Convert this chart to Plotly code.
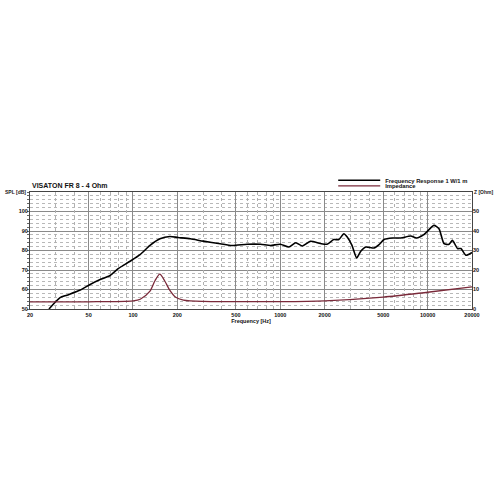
import math
import plotly.graph_objects as go

# SPL frequency response (Hz, dB)
spl_freq = [26.9, 32, 35.6, 43.9, 51.2, 59.9, 70, 79.8, 95.6, 111.7, 130.5, 152.5, 178, 202,
            245, 300, 391, 470, 595, 735, 857, 1000, 1143, 1274, 1414, 1599, 1868, 2075,
            2305, 2495, 2700, 2845, 3065, 3300, 3515, 3800, 4330, 4680, 5060, 5770, 6570,
            7680, 8420, 9420, 11030, 11940, 12920, 13980, 14730, 15960, 16820, 18200, 20000]
spl_db = [50, 55.8, 57.1, 59.7, 62.6, 65.1, 67.2, 70.8, 74.5, 77.9, 82.6, 86, 87.2, 86.7,
          86, 84.8, 83.5, 82.6, 83.2, 83.2, 82.6, 83.2, 81.8, 84, 82.3, 84.7, 83.6, 83.2,
          85.6, 85.6, 88.6, 86.9, 82.6, 76.2, 79.6, 81.8, 81.3, 83, 85.6, 86.4, 86.4,
          87.4, 86.4, 88.1, 92.9, 91.2, 83.5, 83.2, 85.2, 81, 81, 77.6, 79]

# Impedance (Hz, Ohm)
imp_freq = [20, 50, 100, 112, 130, 141, 152, 164, 178, 195, 220, 300, 500, 1000, 2000,
            5000, 10000, 20000]
imp_ohm = [3.7, 3.7, 4.2, 5.0, 9.0, 14.5, 17.9, 14.5, 9.5, 6.0, 4.6, 3.9, 3.8, 3.8, 4.2,
           6.1, 8.6, 11.3]

major_x = [20, 50, 100, 200, 500, 1000, 2000, 5000, 10000, 20000]
major_x_labels = ["20", "50", "100", "200", "500", "1000", "2000", "5000", "10000", "20000"]
minor_x = [30, 40, 60, 70, 80, 90, 300, 400, 600, 700, 800, 900, 3000, 4000, 6000, 7000,
           8000, 9000]
spl_ticks = [50, 60, 70, 80, 90, 100]
z_ticks = [0, 10, 20, 30, 40, 50]

FONT = "Liberation Sans"
tick_font = dict(family=FONT, size=5.5, color="#111111", weight="bold")
leg_font = dict(family=FONT, size=5.8, color="#111111", weight="bold")

W, H = 496, 496
L, R, T = 30, 24, 191.5
PLOT_H = 117.5
B = H - T - PLOT_H

fig = go.Figure()
fig.add_trace(go.Scatter(x=spl_freq, y=spl_db, mode="lines", name="Frequency Response 1 W/1 m",
                         line=dict(color="black", width=1.6, shape="spline", smoothing=0.6),
                         xaxis="x", yaxis="y", legend="legend"))
fig.add_trace(go.Scatter(x=imp_freq, y=imp_ohm, mode="lines", name="Impedance",
                         line=dict(color="#7a2a3a", width=1.3, shape="spline", smoothing=0.8),
                         xaxis="x", yaxis="y2", legend="legend2"))
# empty trace on xaxis2 so the minor grid axis is drawn
fig.add_trace(go.Scatter(x=[20, 20000], y=[None, None], xaxis="x2", yaxis="y",
                         showlegend=False, hoverinfo="skip"))

fig.update_layout(
    width=W, height=H,
    margin=dict(l=L, r=R, t=T, b=B, pad=0, autoexpand=False),
    paper_bgcolor="white", plot_bgcolor="white",
    showlegend=True,
    legend=dict(x=0.686, y=1.10, xanchor="left", yanchor="middle", bgcolor="rgba(0,0,0,0)",
                font=leg_font, itemwidth=42),
    legend2=dict(x=0.686, y=1.052, xanchor="left", yanchor="middle", bgcolor="rgba(0,0,0,0)",
                 font=leg_font, itemwidth=42),
    xaxis=dict(type="log", range=[math.log10(20), math.log10(20000)],
               tickvals=major_x, ticktext=major_x_labels, tickfont=tick_font,
               showgrid=True, gridcolor="#8a8a8a", gridwidth=1,
               showline=True, linecolor="#444", linewidth=1, mirror=True,
               ticks="", zeroline=False, automargin=False,
               title=dict(text="Frequency [Hz]", font=dict(family=FONT, size=5.5,
                                                            color="#111111", weight="bold"),
                          standoff=1)),
    xaxis2=dict(type="log", range=[math.log10(20), math.log10(20000)], overlaying="x",
                tickvals=minor_x, showticklabels=False, showgrid=True,
                gridcolor="#b0b0b0", griddash="dot", gridwidth=1, ticks="",
                automargin=False),
    yaxis=dict(range=[50, 110], tickvals=spl_ticks, tickfont=tick_font,
               showgrid=True, gridcolor="#8a8a8a", gridwidth=1,
               minor=dict(dtick=2, showgrid=True, gridcolor="#b8b8b8", griddash="dot",
                          ticks="outside", ticklen=2, tickcolor="#666"),
               showline=True, linecolor="#444", linewidth=1, mirror=True,
               ticks="", zeroline=False, automargin=False),
    yaxis2=dict(range=[0, 60], tickvals=z_ticks, tickfont=tick_font, overlaying="y",
                side="right", showgrid=False, zeroline=False, ticks="", automargin=False),
)

fig.add_annotation(text="<b>VISATON FR 8 - 4 Ohm</b>", xref="paper", yref="paper",
                   x=0, y=1.0, yshift=1, xanchor="left", yanchor="bottom", showarrow=False,
                   font=dict(family=FONT, size=7, color="#111"))
fig.add_annotation(text="<b>SPL [dB]</b>", xref="paper", yref="paper", x=0, y=1.0,
                   xshift=-2, xanchor="right", yanchor="middle", showarrow=False,
                   font=dict(family=FONT, size=5, color="#222"))
fig.add_annotation(text="<b>Z [Ohm]</b>", xref="paper", yref="paper", x=1, y=1.0,
                   xshift=0, xanchor="left", yanchor="middle", showarrow=False,
                   font=dict(family=FONT, size=5, color="#222"))

fig.write_html("out.html", config={"displayModeBar": False},
               post_script="document.body.style.margin='0';document.body.style.overflow='hidden';")
